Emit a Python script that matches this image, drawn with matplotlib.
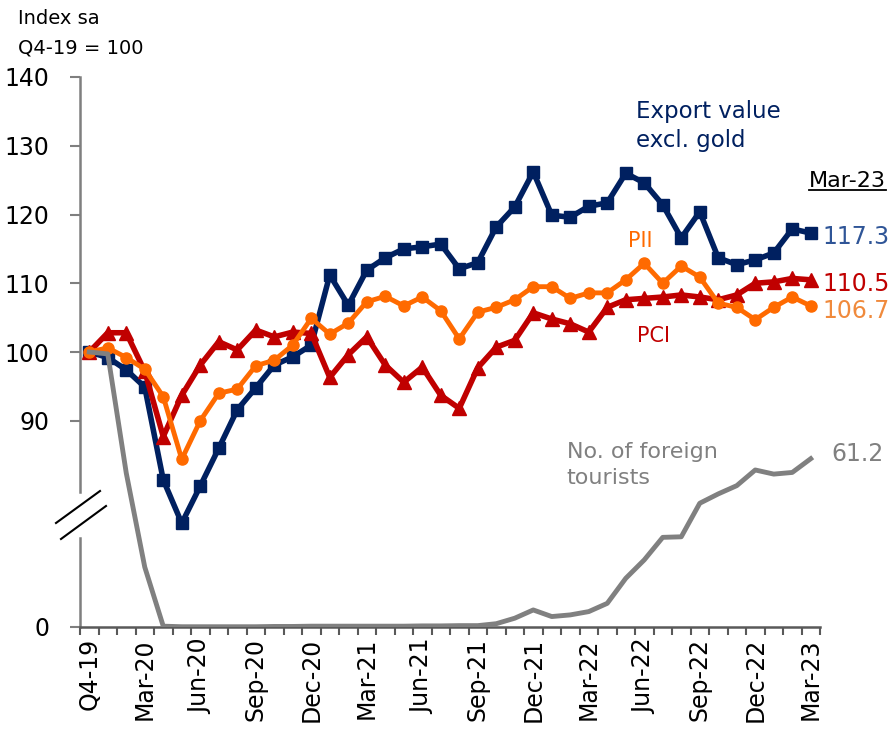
import matplotlib
matplotlib.use("Agg")
import matplotlib.pyplot as plt
from matplotlib.lines import Line2D
import numpy as np

plt.rcParams['font.family'] = ['DejaVu Sans']

# Q4-19 average, then monthly Jan-20 .. Mar-23 (index sa, Q4-19 = 100)
tick_labels = ["Q4-19", "Mar-20", "Jun-20", "Sep-20", "Dec-20", "Mar-21", "Jun-21",
               "Sep-21", "Dec-21", "Mar-22", "Jun-22", "Sep-22", "Dec-22", "Mar-23"]

export = [100, 99.2, 97.4, 94.9, 81.4, 75.1, 80.5, 86.0, 91.6, 94.8,
          98.1, 99.3, 101.0, 111.2, 106.8, 111.9, 113.7, 115.0, 115.3, 115.7,
          112.1, 113.0, 118.2, 121.1, 126.2, 119.9, 119.6, 121.2, 121.7, 126.0,
          124.6, 121.4, 116.6, 120.4, 113.7, 112.7, 113.4, 114.4, 117.9, 117.3]

pii = [100, 100.6, 99.2, 97.5, 93.5, 84.4, 90.0, 94.0, 94.6, 98.0,
       98.8, 101.0, 104.9, 102.6, 104.2, 107.3, 108.1, 106.7, 108.0, 106.0,
       101.9, 105.8, 106.5, 107.6, 109.5, 109.5, 107.8, 108.6, 108.6, 110.5,
       112.9, 110.0, 112.5, 110.9, 107.1, 106.5, 104.7, 106.5, 108.0, 106.7]

pci = [100, 102.8, 102.8, 97.2, 87.7, 93.7, 98.1, 101.5, 100.3, 103.2,
       102.2, 102.9, 102.7, 96.3, 99.6, 102.2, 98.1, 95.6, 97.8, 93.7,
       91.8, 97.7, 100.7, 101.7, 105.7, 104.8, 104.1, 102.9, 106.5, 107.6,
       107.8, 108.0, 108.3, 108.0, 107.6, 108.3, 110.0, 110.2, 110.7, 110.5]

tourists = [100, 99.3, 56.0, 21.8, 0.3, 0.1, 0.1, 0.1, 0.1, 0.1,
            0.2, 0.2, 0.3, 0.3, 0.3, 0.3, 0.3, 0.3, 0.4, 0.4,
            0.5, 0.5, 1.2, 3.2, 6.2, 3.8, 4.4, 5.6, 8.6, 17.7,
            24.4, 32.6, 32.8, 45.0, 48.4, 51.4, 57.1, 55.6, 56.2, 61.2]

NAVY = "#002060"
RED = "#C00000"
ORANGE = "#FF6A00"
GRAY = "#808080"

x = np.arange(len(export))
# tourists sit on the broken lower part of the axis: 0 -> 60, 100 -> 100
tour_y = 60 + 0.4 * np.array(tourists)

fig = plt.figure(figsize=(8.93, 7.30), dpi=100)
ax = fig.add_axes([80 / 893, 1 - 627 / 730, 740 / 893, 550 / 730])

ax.plot(x, export, color=NAVY, lw=4, marker="s", ms=9, zorder=3)
ax.plot(x, pci, color=RED, lw=4, marker="^", ms=10, zorder=4)
ax.plot(x, pii, color=ORANGE, lw=3.5, marker="o", ms=8, zorder=5)
ax.plot(x, tour_y, color=GRAY, lw=3.5, zorder=6)

ax.set_xlim(-0.5, len(x) - 0.5)
ax.set_ylim(60, 140)

# y axis: index ticks plus "0" for the tourists scale
ax.set_yticks([60, 90, 100, 110, 120, 130, 140])
ax.set_yticklabels(["0", "90", "100", "110", "120", "130", "140"])
ax.tick_params(axis="y", length=7, width=1.5, color="#7F7F7F", pad=15, labelsize=17)

# x axis: labels every quarter, tick marks between months
ax.set_xticks(np.arange(0, len(x), 3))
ax.set_xticklabels(tick_labels, rotation=90, fontsize=17)
ax.set_xticks(np.arange(-0.5, len(x), 1), minor=True)
ax.tick_params(axis="x", which="major", length=0, pad=8)
ax.tick_params(axis="x", which="minor", length=6, width=1.5, color="#595959")

for s in ["top", "right", "left"]:
    ax.spines[s].set_visible(False)
ax.spines["bottom"].set_color("#595959")
ax.spines["bottom"].set_linewidth(1.8)

# broken left spine
ax.plot([-0.5, -0.5], [79.6, 140], color="#7F7F7F", lw=1.8, clip_on=False, zorder=1)
ax.plot([-0.5, -0.5], [60, 72.9], color="#7F7F7F", lw=1.8, clip_on=False, zorder=1)
for (x0, y0, x1, y1) in [(56, 523, 100, 491), (61, 539, 106, 506)]:
    fig.add_artist(Line2D([x0 / 893, x1 / 893], [1 - y0 / 730, 1 - y1 / 730],
                          color="black", lw=1.5))

# annotations
ax.text(29.55, 136.6, "Export value\nexcl. gold", color=NAVY, fontsize=16.5,
        va="top", ha="left", linespacing=1.3)
ax.text(29.8, 116.1, "PII", color=ORANGE, fontsize=15, ha="center", va="center")
ax.text(30.5, 102.3, "PCI", color=RED, fontsize=15, ha="center", va="center")
ax.text(25.8, 83.6, "No. of foreign\ntourists", color=GRAY, fontsize=16,
        ha="left", va="center", linespacing=1.4)

ax.text(39.65, export[-1] - 0.5, "117.3", color="#2F5597", fontsize=17, va="center", ha="left")
ax.text(39.65, pci[-1] - 0.6, "110.5", color=RED, fontsize=17, va="center", ha="left")
ax.text(39.65, pii[-1] - 0.8, "106.7", color="#F08A3C", fontsize=17, va="center", ha="left")
ax.text(40.1, tour_y[-1] + 0.7, "61.2", color=GRAY, fontsize=17, va="center", ha="left")
mar = ax.text(38.9, 124.9, "Mar-23", color="black", fontsize=16, va="center", ha="left")

fig.text(18 / 893, 1 - 18 / 730, "Index sa", fontsize=14, va="center", ha="left")
fig.text(18 / 893, 1 - 48 / 730, "Q4-19 = 100", fontsize=14, va="center", ha="left")

# underline "Mar-23"
fig.canvas.draw()
bb = mar.get_window_extent()
W, H = fig.bbox.width, fig.bbox.height
fig.add_artist(Line2D([bb.x0 / W, bb.x1 / W], [(bb.y0 + 1) / H, (bb.y0 + 1) / H],
                      color="black", lw=1.3))

fig.savefig("out.png", dpi=100)
